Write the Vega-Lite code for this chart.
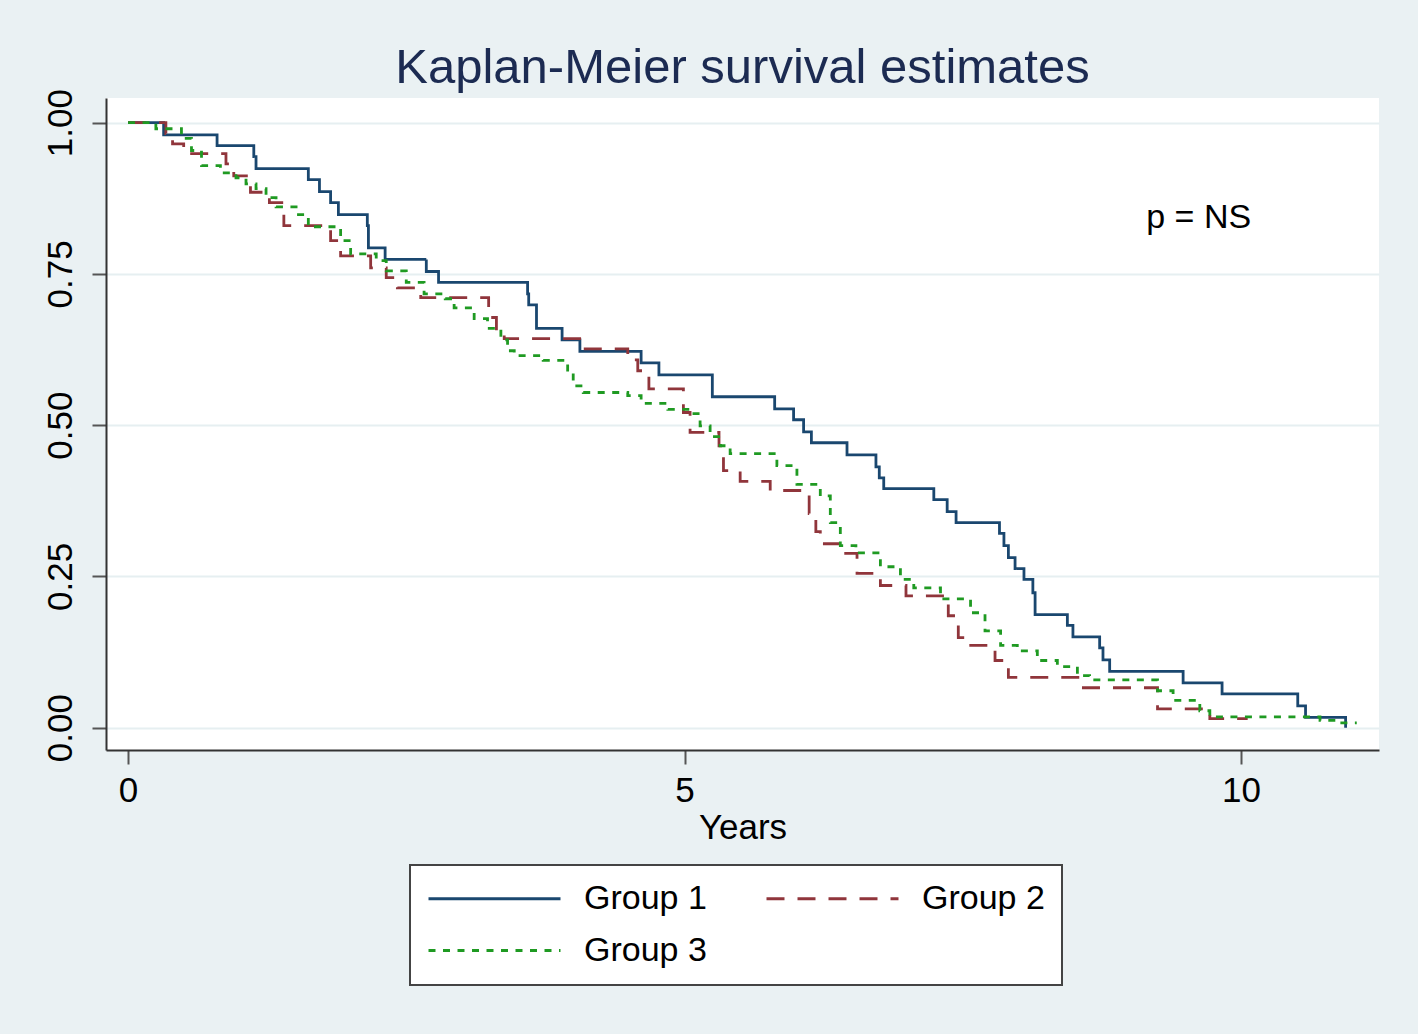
{
  "$schema": "https://vega.github.io/schema/vega-lite/v6.json",
  "autosize": {"type": "none"},
  "padding": {"left": 106, "top": 98, "right": 39, "bottom": 284},
  "width": 1273,
  "height": 652,
  "background": "#eaf1f3",
  "title": {
    "text": "Kaplan-Meier survival estimates",
    "font": "Liberation Sans",
    "fontSize": 49,
    "fontWeight": "normal",
    "color": "#1c2b52",
    "anchor": "middle",
    "frame": "group",
    "baseline": "alphabetic",
    "offset": -43
  },
  "datasets": {
    "km": [
      {"g": "Group 1", "t": 0, "s": 1},
      {"g": "Group 1", "t": 0.32, "s": 0.980},
      {"g": "Group 1", "t": 0.80, "s": 0.962},
      {"g": "Group 1", "t": 1.13, "s": 0.944},
      {"g": "Group 1", "t": 1.15, "s": 0.924},
      {"g": "Group 1", "t": 1.62, "s": 0.906},
      {"g": "Group 1", "t": 1.72, "s": 0.886},
      {"g": "Group 1", "t": 1.82, "s": 0.868},
      {"g": "Group 1", "t": 1.89, "s": 0.848},
      {"g": "Group 1", "t": 2.15, "s": 0.830},
      {"g": "Group 1", "t": 2.16, "s": 0.793},
      {"g": "Group 1", "t": 2.31, "s": 0.774},
      {"g": "Group 1", "t": 2.68, "s": 0.754},
      {"g": "Group 1", "t": 2.79, "s": 0.736},
      {"g": "Group 1", "t": 3.59, "s": 0.717},
      {"g": "Group 1", "t": 3.60, "s": 0.699},
      {"g": "Group 1", "t": 3.67, "s": 0.660},
      {"g": "Group 1", "t": 3.90, "s": 0.641},
      {"g": "Group 1", "t": 4.06, "s": 0.622},
      {"g": "Group 1", "t": 4.61, "s": 0.603},
      {"g": "Group 1", "t": 4.77, "s": 0.583},
      {"g": "Group 1", "t": 5.25, "s": 0.547},
      {"g": "Group 1", "t": 5.81, "s": 0.527},
      {"g": "Group 1", "t": 5.98, "s": 0.509},
      {"g": "Group 1", "t": 6.07, "s": 0.489},
      {"g": "Group 1", "t": 6.14, "s": 0.471},
      {"g": "Group 1", "t": 6.46, "s": 0.451},
      {"g": "Group 1", "t": 6.72, "s": 0.431},
      {"g": "Group 1", "t": 6.75, "s": 0.413},
      {"g": "Group 1", "t": 6.79, "s": 0.395},
      {"g": "Group 1", "t": 7.24, "s": 0.377},
      {"g": "Group 1", "t": 7.36, "s": 0.357},
      {"g": "Group 1", "t": 7.44, "s": 0.339},
      {"g": "Group 1", "t": 7.83, "s": 0.321},
      {"g": "Group 1", "t": 7.87, "s": 0.301},
      {"g": "Group 1", "t": 7.91, "s": 0.281},
      {"g": "Group 1", "t": 7.97, "s": 0.263},
      {"g": "Group 1", "t": 8.05, "s": 0.245},
      {"g": "Group 1", "t": 8.13, "s": 0.223},
      {"g": "Group 1", "t": 8.15, "s": 0.187},
      {"g": "Group 1", "t": 8.44, "s": 0.169},
      {"g": "Group 1", "t": 8.49, "s": 0.150},
      {"g": "Group 1", "t": 8.73, "s": 0.132},
      {"g": "Group 1", "t": 8.76, "s": 0.112},
      {"g": "Group 1", "t": 8.82, "s": 0.093},
      {"g": "Group 1", "t": 9.48, "s": 0.074},
      {"g": "Group 1", "t": 9.83, "s": 0.056},
      {"g": "Group 1", "t": 10.51, "s": 0.036},
      {"g": "Group 1", "t": 10.58, "s": 0.017},
      {"g": "Group 1", "t": 10.94, "s": 0.0},

      {"g": "Group 2", "t": 0, "s": 1},
      {"g": "Group 2", "t": 0.34, "s": 0.982},
      {"g": "Group 2", "t": 0.40, "s": 0.965},
      {"g": "Group 2", "t": 0.50, "s": 0.949},
      {"g": "Group 2", "t": 0.88, "s": 0.932},
      {"g": "Group 2", "t": 0.95, "s": 0.912},
      {"g": "Group 2", "t": 1.10, "s": 0.885},
      {"g": "Group 2", "t": 1.27, "s": 0.868},
      {"g": "Group 2", "t": 1.40, "s": 0.830},
      {"g": "Group 2", "t": 1.82, "s": 0.805},
      {"g": "Group 2", "t": 1.91, "s": 0.780},
      {"g": "Group 2", "t": 2.18, "s": 0.760},
      {"g": "Group 2", "t": 2.32, "s": 0.744},
      {"g": "Group 2", "t": 2.42, "s": 0.727},
      {"g": "Group 2", "t": 2.63, "s": 0.711},
      {"g": "Group 2", "t": 3.24, "s": 0.678},
      {"g": "Group 2", "t": 3.31, "s": 0.656},
      {"g": "Group 2", "t": 3.38, "s": 0.643},
      {"g": "Group 2", "t": 4.08, "s": 0.626},
      {"g": "Group 2", "t": 4.49, "s": 0.608},
      {"g": "Group 2", "t": 4.58, "s": 0.590},
      {"g": "Group 2", "t": 4.68, "s": 0.560},
      {"g": "Group 2", "t": 4.99, "s": 0.521},
      {"g": "Group 2", "t": 5.05, "s": 0.488},
      {"g": "Group 2", "t": 5.31, "s": 0.466},
      {"g": "Group 2", "t": 5.35, "s": 0.425},
      {"g": "Group 2", "t": 5.50, "s": 0.407},
      {"g": "Group 2", "t": 5.77, "s": 0.392},
      {"g": "Group 2", "t": 6.12, "s": 0.354},
      {"g": "Group 2", "t": 6.18, "s": 0.324},
      {"g": "Group 2", "t": 6.22, "s": 0.304},
      {"g": "Group 2", "t": 6.42, "s": 0.288},
      {"g": "Group 2", "t": 6.55, "s": 0.255},
      {"g": "Group 2", "t": 6.76, "s": 0.235},
      {"g": "Group 2", "t": 6.99, "s": 0.218},
      {"g": "Group 2", "t": 7.37, "s": 0.185},
      {"g": "Group 2", "t": 7.46, "s": 0.149},
      {"g": "Group 2", "t": 7.54, "s": 0.136},
      {"g": "Group 2", "t": 7.79, "s": 0.111},
      {"g": "Group 2", "t": 7.91, "s": 0.083},
      {"g": "Group 2", "t": 8.55, "s": 0.066},
      {"g": "Group 2", "t": 9.25, "s": 0.031},
      {"g": "Group 2", "t": 9.72, "s": 0.015},
      {"g": "Group 2", "t": 10.06, "s": 0.015},

      {"g": "Group 3", "t": 0, "s": 1},
      {"g": "Group 3", "t": 0.25, "s": 0.990},
      {"g": "Group 3", "t": 0.48, "s": 0.974},
      {"g": "Group 3", "t": 0.57, "s": 0.954},
      {"g": "Group 3", "t": 0.66, "s": 0.929},
      {"g": "Group 3", "t": 0.83, "s": 0.917},
      {"g": "Group 3", "t": 0.97, "s": 0.909},
      {"g": "Group 3", "t": 1.06, "s": 0.899},
      {"g": "Group 3", "t": 1.15, "s": 0.891},
      {"g": "Group 3", "t": 1.24, "s": 0.876},
      {"g": "Group 3", "t": 1.33, "s": 0.861},
      {"g": "Group 3", "t": 1.51, "s": 0.848},
      {"g": "Group 3", "t": 1.62, "s": 0.828},
      {"g": "Group 3", "t": 1.91, "s": 0.805},
      {"g": "Group 3", "t": 2.00, "s": 0.783},
      {"g": "Group 3", "t": 2.23, "s": 0.772},
      {"g": "Group 3", "t": 2.32, "s": 0.755},
      {"g": "Group 3", "t": 2.50, "s": 0.736},
      {"g": "Group 3", "t": 2.66, "s": 0.717},
      {"g": "Group 3", "t": 2.85, "s": 0.709},
      {"g": "Group 3", "t": 2.93, "s": 0.694},
      {"g": "Group 3", "t": 3.11, "s": 0.676},
      {"g": "Group 3", "t": 3.23, "s": 0.660},
      {"g": "Group 3", "t": 3.35, "s": 0.641},
      {"g": "Group 3", "t": 3.41, "s": 0.623},
      {"g": "Group 3", "t": 3.47, "s": 0.615},
      {"g": "Group 3", "t": 3.73, "s": 0.607},
      {"g": "Group 3", "t": 3.95, "s": 0.587},
      {"g": "Group 3", "t": 4.00, "s": 0.565},
      {"g": "Group 3", "t": 4.09, "s": 0.554},
      {"g": "Group 3", "t": 4.49, "s": 0.549},
      {"g": "Group 3", "t": 4.61, "s": 0.536},
      {"g": "Group 3", "t": 4.85, "s": 0.526},
      {"g": "Group 3", "t": 5.03, "s": 0.519},
      {"g": "Group 3", "t": 5.14, "s": 0.499},
      {"g": "Group 3", "t": 5.23, "s": 0.481},
      {"g": "Group 3", "t": 5.32, "s": 0.466},
      {"g": "Group 3", "t": 5.41, "s": 0.453},
      {"g": "Group 3", "t": 5.83, "s": 0.433},
      {"g": "Group 3", "t": 6.01, "s": 0.402},
      {"g": "Group 3", "t": 6.22, "s": 0.383},
      {"g": "Group 3", "t": 6.31, "s": 0.339},
      {"g": "Group 3", "t": 6.40, "s": 0.301},
      {"g": "Group 3", "t": 6.54, "s": 0.289},
      {"g": "Group 3", "t": 6.76, "s": 0.266},
      {"g": "Group 3", "t": 6.94, "s": 0.245},
      {"g": "Group 3", "t": 7.06, "s": 0.231},
      {"g": "Group 3", "t": 7.30, "s": 0.213},
      {"g": "Group 3", "t": 7.57, "s": 0.190},
      {"g": "Group 3", "t": 7.70, "s": 0.160},
      {"g": "Group 3", "t": 7.84, "s": 0.136},
      {"g": "Group 3", "t": 7.99, "s": 0.127},
      {"g": "Group 3", "t": 8.17, "s": 0.111},
      {"g": "Group 3", "t": 8.35, "s": 0.101},
      {"g": "Group 3", "t": 8.53, "s": 0.086},
      {"g": "Group 3", "t": 8.64, "s": 0.079},
      {"g": "Group 3", "t": 9.25, "s": 0.061},
      {"g": "Group 3", "t": 9.39, "s": 0.045},
      {"g": "Group 3", "t": 9.63, "s": 0.028},
      {"g": "Group 3", "t": 9.72, "s": 0.018},
      {"g": "Group 3", "t": 10.71, "s": 0.012},
      {"g": "Group 3", "t": 10.89, "s": 0.008},
      {"g": "Group 3", "t": 11.04, "s": 0.008}
    ],
    "note": [
      {"t": 9.62, "s": 0.842, "label": "p = NS"}
    ]
  },
  "layer": [
    {
      "data": {"name": "km"},
      "mark": {"type": "line", "interpolate": "step-after", "strokeWidth": 2.8, "clip": true},
      "encoding": {
        "x": {
          "field": "t", "type": "quantitative",
          "scale": {"domain": [-0.198, 11.24], "nice": false, "zero": false},
          "axis": {"values": [0, 5, 10], "title": "Years", "format": "d", "grid": false}
        },
        "y": {
          "field": "s", "type": "quantitative",
          "scale": {"domain": [-0.0369, 1.0408], "nice": false, "zero": false},
          "axis": {"values": [0, 0.25, 0.5, 0.75, 1], "format": ".2f", "title": null, "grid": true, "labelAngle": 270}
        },
        "color": {
          "field": "g", "type": "nominal",
          "scale": {"domain": ["Group 1", "Group 2", "Group 3"], "range": ["#1a476f", "#90353b", "#1f9a22"]},
          "legend": {"orient": "none", "legendX": 304, "legendY": 767, "title": null, "columns": 2, "direction": "horizontal"}
        },
        "strokeDash": {
          "field": "g", "type": "nominal",
          "scale": {"domain": ["Group 1", "Group 2", "Group 3"], "range": [[1, 0], [18, 13], [7, 7.5]]},
          "legend": {"orient": "none", "legendX": 304, "legendY": 767, "title": null, "columns": 2, "direction": "horizontal"}
        }
      }
    },
    {
      "data": {"name": "note"},
      "mark": {"type": "text", "font": "Liberation Sans", "fontSize": 34, "color": "black", "align": "center", "baseline": "middle"},
      "encoding": {
        "x": {"field": "t", "type": "quantitative"},
        "y": {"field": "s", "type": "quantitative"},
        "text": {"field": "label"}
      }
    }
  ],
  "config": {
    "view": {"fill": "white", "stroke": null},
    "font": "Liberation Sans",
    "axis": {
      "labelFont": "Liberation Sans",
      "labelFontSize": 35,
      "labelColor": "black",
      "titleFont": "Liberation Sans",
      "titleFontSize": 35,
      "titleFontWeight": "normal",
      "titleColor": "black",
      "domainColor": "#333333",
      "domainWidth": 2,
      "tickColor": "#555555",
      "tickWidth": 2,
      "tickSize": 14,
      "gridColor": "#e6eff1",
      "gridWidth": 2,
      "labelPadding": 9,
      "titlePadding": 2
    },
    "axisY": {"labelPadding": 14},
    "legend": {
      "symbolType": "stroke",
      "symbolSize": 17424,
      "symbolStrokeWidth": 2.8,
      "clipHeight": 33,
      "labelFont": "Liberation Sans",
      "labelFontSize": 34,
      "labelColor": "black",
      "labelOffset": 22,
      "labelLimit": 400,
      "columnPadding": 58,
      "rowPadding": 17,
      "padding": 17,
      "strokeColor": "#444444",
      "fillColor": "white",
      "strokeWidth": 2
    }
  }
}
